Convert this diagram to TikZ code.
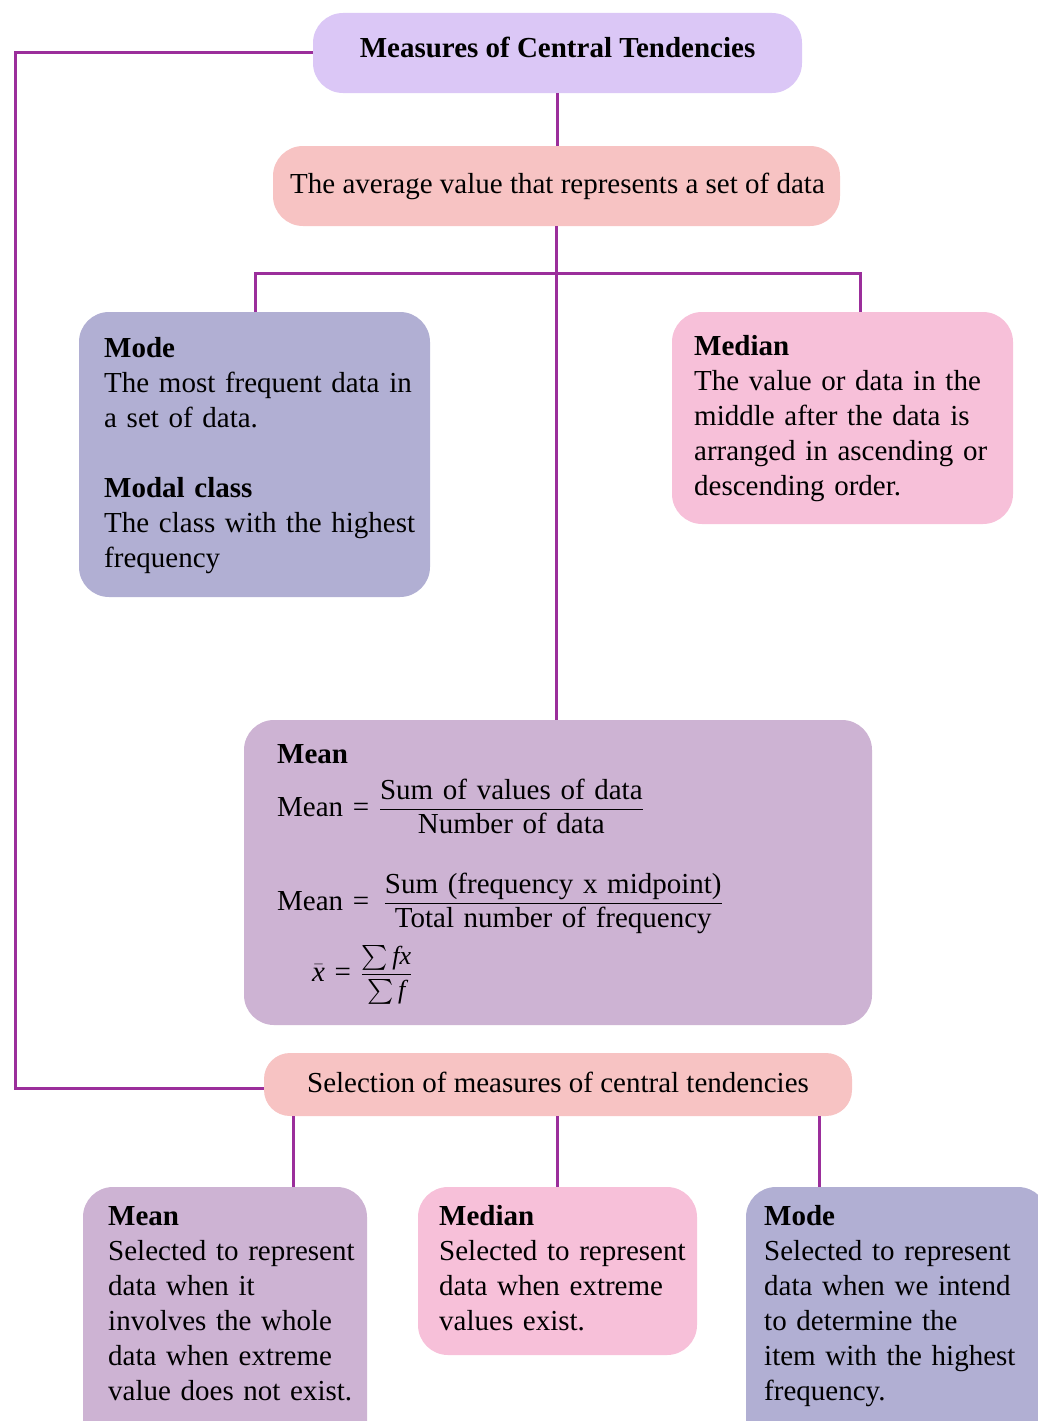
\documentclass[tikz,border=0pt]{standalone}
\usepackage{fontspec}
\usepackage{amsmath}
\usepackage{exscale}
\setmainfont{Liberation Serif}
\newcommand\bodyfont{\fontsize{29}{35}\selectfont}
\newcommand\fracfont{\fontsize{26}{26}\selectfont}

\definecolor{titlefill}{HTML}{DBC7F6}
\definecolor{salmonfill}{HTML}{F7C3C3}
\definecolor{modefill}{HTML}{B1AFD3}
\definecolor{medianfill}{HTML}{F7C0D9}
\definecolor{meanfill}{HTML}{CDB3D3}
\definecolor{linkpurple}{HTML}{9B2E9B}

\begin{document}
\begin{tikzpicture}[x=1pt,y=-1pt,
  box/.style={rectangle, rounded corners=30pt, inner sep=0pt, draw=none},
  conn/.style={draw=linkpurple, line width=3pt},
  txt/.style={anchor=base west, inner sep=0pt, text width=620pt, align=left, font=\bodyfont},
  ctxt/.style={anchor=base, inner sep=0pt, font=\bodyfont}]

\useasboundingbox (0,0) rectangle (1038,1421);
\clip (0,0) rectangle (1038,1421);

% boxes
\node[box, fill=titlefill, minimum width=489pt, minimum height=80pt] (title) at (557.5,53) {};
\node[box, fill=salmonfill, minimum width=567pt, minimum height=80pt] (avg) at (556.5,186) {};
\node[box, fill=modefill, minimum width=351pt, minimum height=285pt] (mode) at (254.5,454.5) {};
\node[box, fill=medianfill, minimum width=341pt, minimum height=212pt] (median) at (842.5,418) {};
\node[box, fill=meanfill, minimum width=628pt, minimum height=305pt] (mean) at (558,872.5) {};
\node[box, rounded corners=26pt, fill=salmonfill, minimum width=588pt, minimum height=63pt] (sel) at (558,1084.5) {};
\node[box, fill=meanfill, minimum width=284pt, minimum height=273pt] (bmean) at (225,1323.5) {};
\node[box, fill=medianfill, minimum width=279pt, minimum height=168pt] (bmedian) at (557.5,1271) {};
\node[box, fill=modefill, minimum width=302pt, minimum height=273pt] (bmode) at (897,1323.5) {};

% connectors
\coordinate (lc) at (15,1088);
\draw[conn] (title.west) -| (lc) -- (lc -| sel.west);
\draw[conn] (title.south) -- (title.south |- avg.north);
\draw[conn] (avg.south) -- (avg.south |- mean.north);
\coordinate (bl) at (255,273);
\coordinate (br) at (860,273);
\draw[conn] (bl |- mode.north) -- (bl) -- (br) -- (br |- median.north);
\coordinate (s1) at (293,1116);
\coordinate (s2) at (557.5,1116);
\coordinate (s3) at (819,1116);
\draw[conn] (s1) -- (s1 |- bmean.north);
\draw[conn] (s2) -- (s2 |- bmedian.north);
\draw[conn] (s3) -- (s3 |- bmode.north);

% texts
\node[ctxt, font=\bodyfont\bfseries] (titleT) at (557.5,58) {Measures of Central Tendencies};
\node[ctxt] (avgT) at (557.5,193) {The average value that represents a set of data};
\node[ctxt] (selT) at (558,1092) {Selection of measures of central tendencies};

\node[txt] (modeT) at (104,357) {\textbf{Mode}\\
The most frequent data in\\
a set of data.\\[35pt]
\textbf{Modal class}\\
The class with the highest\\
frequency};

\node[txt] (medianT) at (694,355) {\textbf{Median}\\
The value or data in the\\
middle after the data is\\
arranged in ascending or\\
descending order.};

\node[txt] (meanT) at (277,763) {\textbf{Mean}};
\node[txt] (meanF1) at (277,816) {Mean = $\dfrac{\text{Sum of values of data}}{\text{Number of data}}$};
\node[txt] (meanF2) at (277,910) {Mean = \,$\dfrac{\text{Sum (frequency x midpoint)}}{\text{Total number of frequency}}$};
\node[txt] (meanF3) at (312,981) {$\bar{\text{\itshape x}}$ = {\fracfont$\dfrac{\sum\text{\itshape fx}}{\sum\text{\itshape f}}$}};

\node[txt] (bmeanT) at (108,1225) {\textbf{Mean}\\
Selected to represent\\
data when it\\
involves the whole\\
data when extreme\\
value does not exist.};

\node[txt] (bmedianT) at (439,1225) {\textbf{Median}\\
Selected to represent\\
data when extreme\\
values exist.};

\node[txt] (bmodeT) at (764,1225) {\textbf{Mode}\\
Selected to represent\\
data when we intend\\
to determine the\\
item with the highest\\
frequency.};

\end{tikzpicture}
\end{document}
